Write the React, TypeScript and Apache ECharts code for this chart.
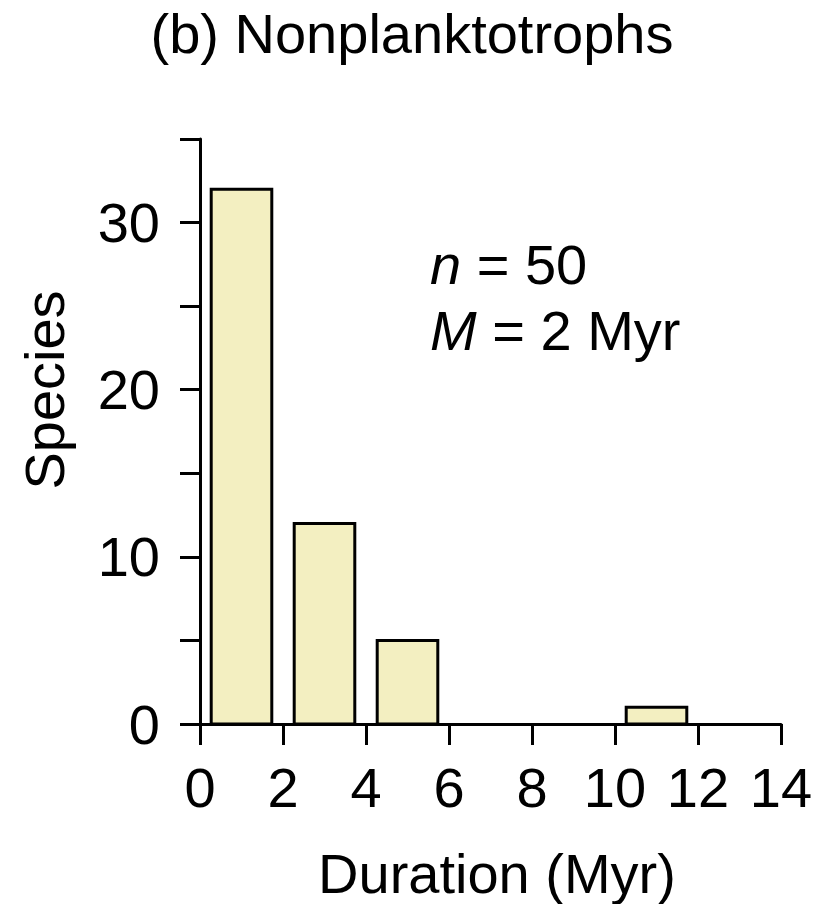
import React, { useEffect, useRef } from "react";
import * as echarts from "echarts";

const binStart = [0, 2, 4, 10];
const binEnd = [2, 4, 6, 12];
const counts = [32, 12, 5, 1];
const xTicks = [0, 2, 4, 6, 8, 10, 12, 14];
const yLabelled = [0, 10, 20, 30];

const FONT = "'Liberation Sans', Arial, Helvetica, sans-serif";
const FS = 56;

export default function App() {
  const ref = useRef<HTMLDivElement>(null);
  useEffect(() => {
    if (!ref.current) return;
    const chart = echarts.init(ref.current, undefined, { renderer: "svg" });
    const data = binStart.map((s, i) => [s, binEnd[i], counts[i]]);
    const gap = 0.27;
    chart.setOption({
      animation: false,
      backgroundColor: "#ffffff",
      grid: { left: 200, right: 43, top: 139, bottom: 180, containLabel: false },
      xAxis: {
        type: "value",
        min: xTicks[0],
        max: xTicks[xTicks.length - 1],
        interval: 2,
        axisLine: { show: true, onZero: false, lineStyle: { color: "#000", width: 3 } },
        axisTick: { show: true, length: 21, lineStyle: { color: "#000", width: 3 } },
        axisLabel: { color: "#000", fontSize: FS, fontFamily: FONT, margin: 35 },
        splitLine: { show: false },
      },
      yAxis: {
        type: "value",
        min: 0,
        max: 35,
        interval: 5,
        axisLine: { show: true, lineStyle: { color: "#000", width: 3 } },
        axisTick: { show: true, length: 20, lineStyle: { color: "#000", width: 3 } },
        axisLabel: {
          color: "#000",
          fontSize: FS,
          fontFamily: FONT,
          margin: 40,
          formatter: (v: number) => (yLabelled.includes(v) ? String(v) : ""),
        },
        splitLine: { show: false },
      },
      series: [
        {
          type: "custom",
          data,
          encode: { x: [0, 1], y: 2 },
          z: 1,
          renderItem: (params: any, api: any) => {
            const s = api.value(0);
            const e = api.value(1);
            const c = api.value(2);
            const p0 = api.coord([s + gap, c]);
            const p1 = api.coord([e - gap, 0]);
            return {
              type: "rect",
              shape: { x: p0[0], y: p0[1], width: p1[0] - p0[0], height: p1[1] - p0[1] },
              style: { fill: "#F3EFC1", stroke: "#000", lineWidth: 3 },
            };
          },
        },
      ],
      graphic: [
        {
          type: "text",
          x: 412,
          y: 33,
          style: {
            text: "(b) Nonplanktotrophs",
            fontSize: FS,
            fontFamily: FONT,
            fill: "#000",
            align: "center",
            verticalAlign: "middle",
          },
        },
        {
          type: "text",
          x: 497,
          y: 873,
          style: {
            text: "Duration (Myr)",
            fontSize: FS,
            fontFamily: FONT,
            fill: "#000",
            align: "center",
            verticalAlign: "middle",
          },
        },
        {
          type: "text",
          x: 44,
          y: 390,
          rotation: Math.PI / 2,
          style: {
            text: "Species",
            fontSize: FS,
            fontFamily: FONT,
            fill: "#000",
            align: "center",
            verticalAlign: "middle",
          },
        },
        {
          type: "text",
          x: 430,
          y: 264,
          style: {
            text: "{i|n} = 50",
            fontSize: FS,
            fontFamily: FONT,
            fill: "#000",
            align: "left",
            verticalAlign: "middle",
            rich: { i: { fontStyle: "italic", fontSize: FS, fontFamily: FONT, fill: "#000" } },
          },
        },
        {
          type: "text",
          x: 430,
          y: 330,
          style: {
            text: "{i|M} = 2 Myr",
            fontSize: FS,
            fontFamily: FONT,
            fill: "#000",
            align: "left",
            verticalAlign: "middle",
            rich: { i: { fontStyle: "italic", fontSize: FS, fontFamily: FONT, fill: "#000" } },
          },
        },
      ],
    });
    return () => chart.dispose();
  }, []);
  return (
    <div
      ref={ref}
      style={{ position: "absolute", left: 0, top: 0, width: 824, height: 904, background: "#fff" }}
    />
  );
}
